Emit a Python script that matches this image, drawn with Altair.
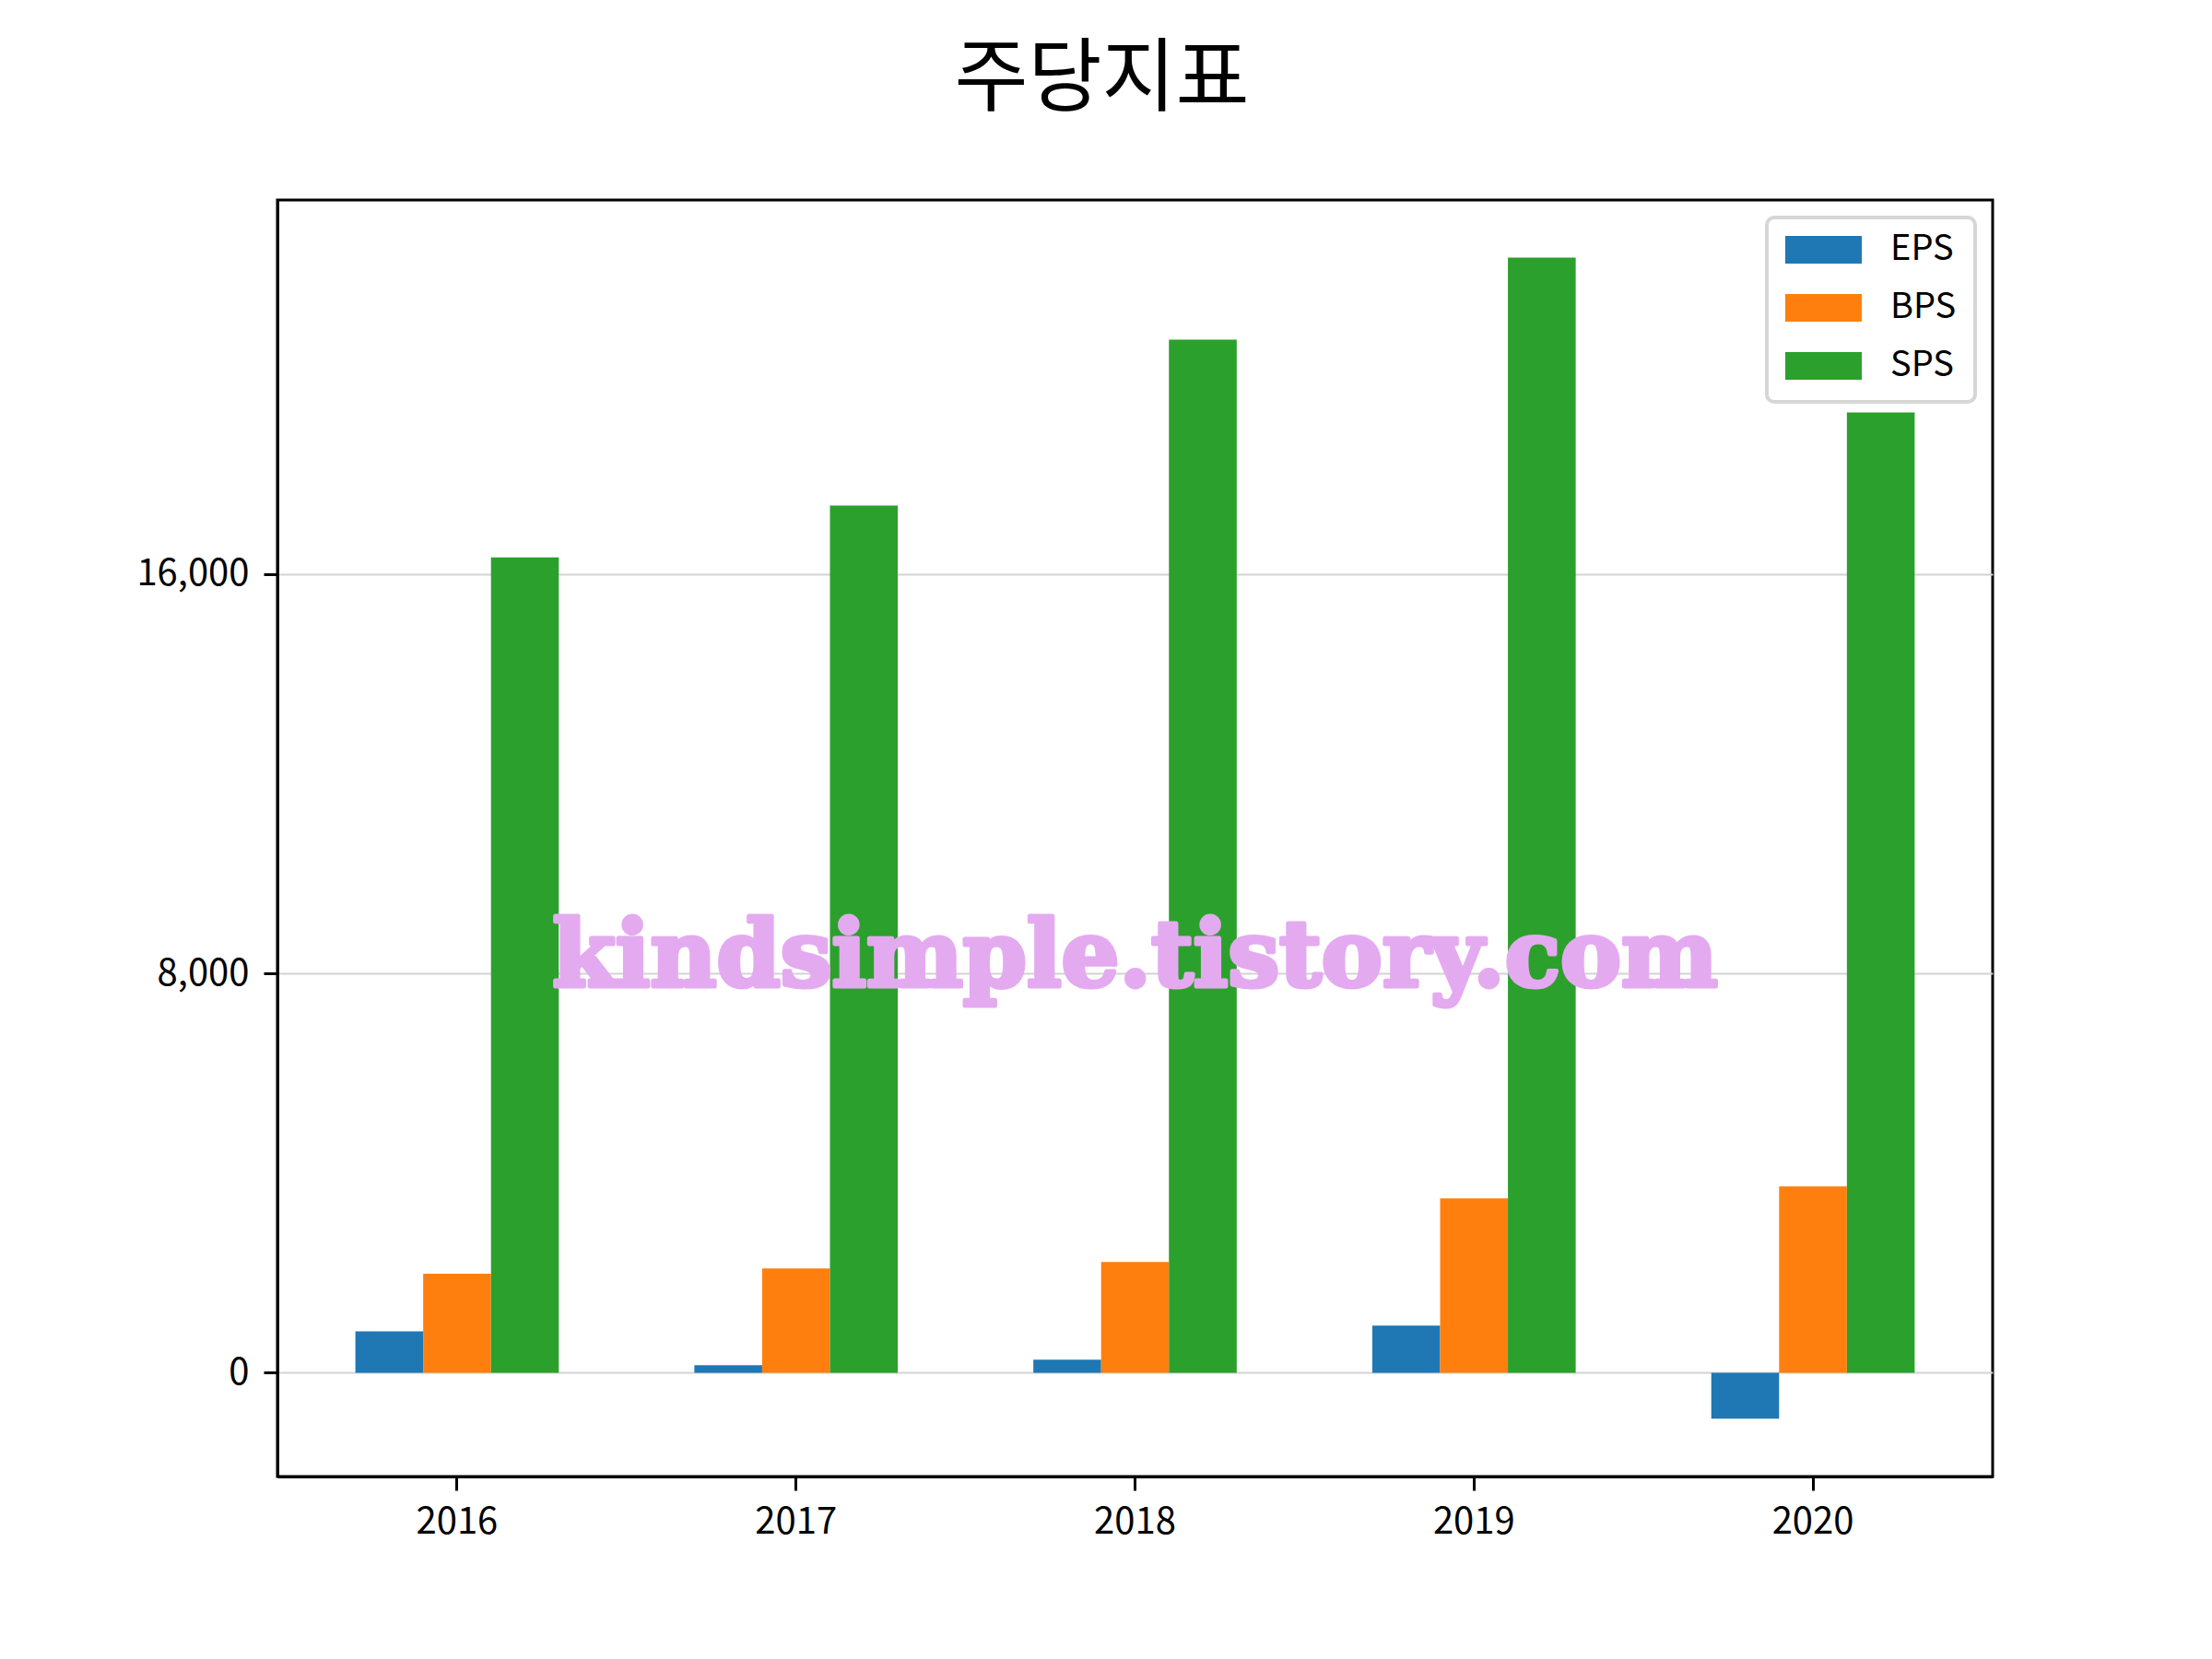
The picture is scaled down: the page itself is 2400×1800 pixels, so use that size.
import altair as alt
import pandas as pd

years = ["2016", "2017", "2018", "2019", "2020"]
series = ["EPS", "BPS", "SPS"]
eps = [830, 153, 264, 947, -917]
bps = [1985, 2090, 2220, 3493, 3733]
sps = [16330, 17371, 20692, 22334, 19234]
colors = ["#1f77b4", "#ff7f0e", "#2ca02c"]
y_ticks = [0, 8000, 16000]
y_domain = [-2077, 23489]
watermark = "kindsimple.tistory.com"
title_text = "주당지표"

rows = []
for name, vals in zip(series, [eps, bps, sps]):
    for yr, v in zip(years, vals):
        rows.append({"year": yr, "series": name, "value": v})
df = pd.DataFrame(rows)

FONT = "Noto Sans CJK KR"

x_axis = alt.Axis(title=None, labelAngle=0, grid=False, tickSize=15,
                  tickWidth=3, tickColor="black", labelPadding=14,
                  labelFontSize=40, labelFont=FONT, labelColor="black")
x_scale = alt.Scale(paddingInner=0.4, paddingOuter=0.23)
y_axis = alt.Axis(title=None, values=y_ticks, format=",.0f", grid=True,
                  gridColor="#d3d3d3", gridWidth=2, tickSize=15, tickWidth=3,
                  tickColor="black", labelPadding=16, labelFontSize=40,
                  labelFont=FONT, labelColor="black")
y_scale = alt.Scale(domain=y_domain, nice=False, zero=False)

bars = alt.Chart(df).mark_bar().encode(
    x=alt.X("year:N", sort=years, scale=x_scale, axis=x_axis),
    xOffset=alt.XOffset("series:N", sort=series, scale=alt.Scale(paddingInner=0, paddingOuter=0)),
    y=alt.Y("value:Q", scale=y_scale, axis=y_axis),
    color=alt.Color("series:N", sort=series,
                    scale=alt.Scale(domain=series, range=colors),
                    legend=alt.Legend(title=None, orient="none", legendX=1616, legendY=19,
                                      symbolType="M-1,-0.36L1,-0.36L1,0.36L-1,0.36Z",
                                      symbolSize=6889, symbolStrokeWidth=0, symbolOpacity=1,
                                      clipHeight=30,
                                      labelFontSize=38, labelFont=FONT, labelColor="black",
                                      labelOffset=31, padding=20, rowPadding=25,
                                      strokeColor="#d6d6d6", fillColor="white",
                                      cornerRadius=8)),
)

wm_df = pd.DataFrame({"year": ["2018"], "value": [7743], "label": [watermark]})
wm = alt.Chart(wm_df).mark_text(
    font="DejaVu Serif", fontWeight="bold", fontSize=99, color="#e4aaf0",
    stroke="#e4aaf0", strokeWidth=5, strokeJoin="round",
    align="center", baseline="alphabetic"
).encode(x=alt.X("year:N", sort=years, scale=x_scale, axis=x_axis),
         y=alt.Y("value:Q", scale=y_scale, axis=y_axis),
         text="label:N")

chart = alt.layer(bars, wm).properties(
    width=1861, height=1385,
    title=alt.TitleParams(title_text, font=FONT, fontSize=87, fontWeight="normal",
                          color="black", anchor="middle", dx=-36, offset=85),
    autosize=alt.AutoSizeParams(type="none"),
    padding={"left": 293, "top": 209, "right": 221, "bottom": 182},
).configure_view(stroke="black", strokeWidth=3).configure_axis(
    zindex=1, domainColor="black", domainWidth=3
).configure_legend(strokeWidth=4)

chart.save("out.html", embed_options={"renderer": "svg", "actions": False})
